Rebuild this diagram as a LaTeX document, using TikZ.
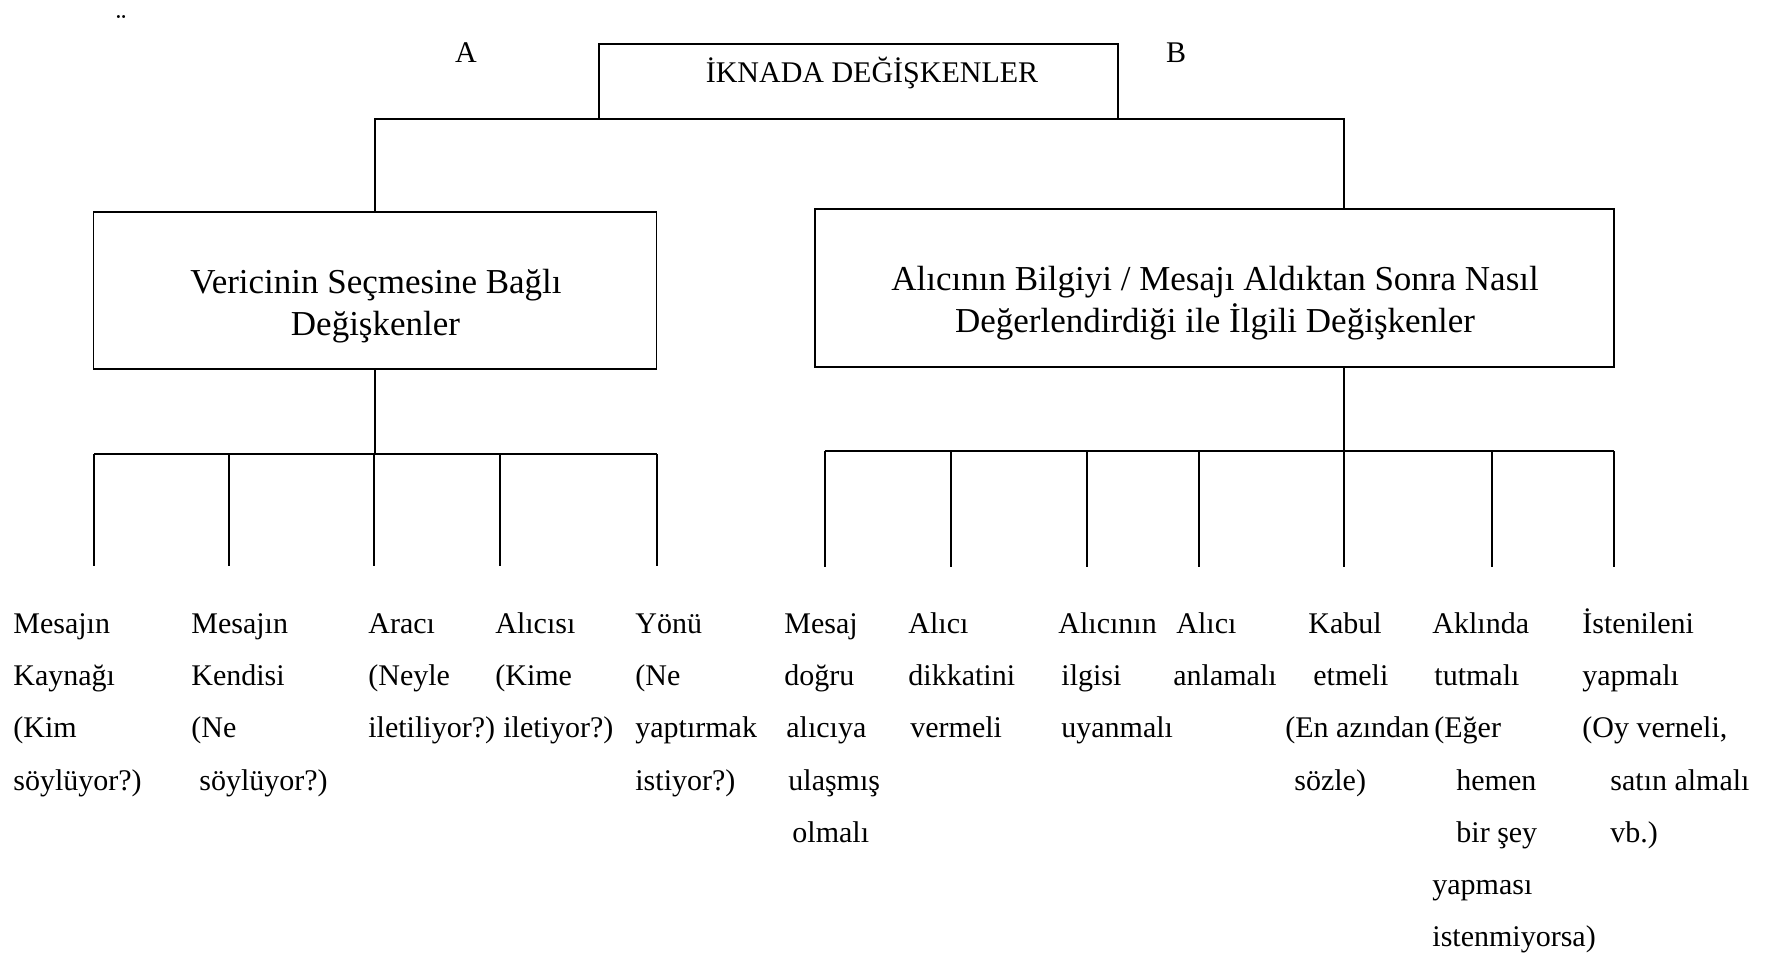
\documentclass[tikz,border=0pt]{standalone}
\usepackage{fontspec}
\setmainfont{Liberation Serif}
\newcommand{\colstack}[1]{\begin{tabular}[t]{@{}l@{}}#1\end{tabular}}
\begin{document}
\begin{tikzpicture}[x=0.5pt,y=-0.5pt,
  line/.style={draw=black,line width=0.65pt},
  frame/.style={draw=black,line width=0.65pt,inner sep=0pt,outer sep=0pt},
  small/.style={inner sep=0pt,anchor=base,font=\fontsize{15pt}{18pt}\selectfont},
  big/.style={inner sep=0pt,anchor=base,font=\fontsize{17.5pt}{21pt}\selectfont},
  item/.style={inner sep=0pt,anchor=base west,font=\fontsize{15pt}{26.1pt}\selectfont}]
\useasboundingbox (0,0) rectangle (1771,954);

% stray accent mark in the corner
\node[small] (acc) at (121,34) {¨};

% top box and the two group letters
\node[frame,minimum width=259.5pt,minimum height=37.5pt] (T) at (858.5,81.5) {};
\node[small] (Tt) at (872,82) {İKNADA DEĞİŞKENLER};
\node[small] (A) at (466,62) {A};
\node[small] (B) at (1176,62) {B};

% the two group boxes
\node[frame,minimum width=281.5pt,minimum height=78.5pt] (L) at (375,290.5) {};
\node[big] (L1) at (376,293) {Vericinin Seçmesine Bağlı};
\node[big] (L2) at (375.5,335) {Değişkenler};
\node[frame,minimum width=399.5pt,minimum height=79pt] (R) at (1214.5,288) {};
\node[big] (R1) at (1215,290) {Alıcının Bilgiyi / Mesajı Aldıktan Sonra Nasıl};
\node[big] (R2) at (1215,332) {Değerlendirdiği ile İlgili Değişkenler};

% branch points of the two lower trees
\foreach \x [count=\i] in {94,229,374,500,657} {
  \coordinate (la\i) at (\x,454);
  \coordinate (lb\i) at (\x,566);
}
\foreach \x [count=\i] in {825,951,1087,1199,1344,1492,1614} {
  \coordinate (ra\i) at (\x,451);
  \coordinate (rb\i) at (\x,567);
}

% top level connector
\draw[line] (L.north) |- (T.south) -| (R.north -| ra5);

% left tree
\draw[line] (L.south) -- (L.south |- la1);
\draw[line] (la1) -- (la5);
\foreach \i in {1,...,5} \draw[line] (la\i) -- (lb\i);

% right tree
\draw[line] (R.south -| ra5) -- (ra5);
\draw[line] (ra1) -- (ra7);
\foreach \i in {1,...,7} \draw[line] (ra\i) -- (rb\i);

% leaf texts
\node[item] (c1) at (13,633.5) {\colstack{Mesajın\\Kaynağı\\(Kim\\söylüyor?)}};
\node[item] (c2) at (191,633.5) {\colstack{Mesajın\\Kendisi\\(Ne\\\hspace*{4pt}söylüyor?)}};
\node[item] (c3) at (368,633.5) {\colstack{Aracı\\(Neyle\\iletiliyor?)}};
\node[item] (c4) at (495,633.5) {\colstack{Alıcısı\\(Kime\\\hspace*{4pt}iletiyor?)}};
\node[item] (c5) at (635,633.5) {\colstack{Yönü\\(Ne\\yaptırmak\\istiyor?)}};
\node[item] (c6) at (784,633.5) {\colstack{Mesaj\\doğru\\\hspace*{1pt}alıcıya\\\hspace*{2pt}ulaşmış\\\hspace*{4pt}olmalı}};
\node[item] (c7) at (908,633.5) {\colstack{Alıcı\\dikkatini\\\hspace*{1pt}vermeli}};
\node[item] (c8) at (1058,633.5) {\colstack{Alıcının\\\hspace*{1.5pt}ilgisi\\\hspace*{1.5pt}uyanmalı}};
\node[item] (c9) at (1173,633.5) {\colstack{\hspace*{1.5pt}Alıcı\\anlamalı}};
\node[item] (c10) at (1285,633.5) {\colstack{\hspace*{11.5pt}Kabul\\\hspace*{14pt}etmeli\\(En azından\\\hspace*{4.5pt}sözle)}};
\node[item] (c11) at (1432,633.5) {\colstack{Aklında\\\hspace*{1pt}tutmalı\\\hspace*{1pt}(Eğer\\\hspace*{12pt}hemen\\\hspace*{12pt}bir şey\\yapması\\istenmiyorsa)}};
\node[item] (c12) at (1582,633.5) {\colstack{İstenileni\\yapmalı\\(Oy verneli,\\\hspace*{14pt}satın almalı\\\hspace*{14pt}vb.)}};
\end{tikzpicture}
\end{document}
